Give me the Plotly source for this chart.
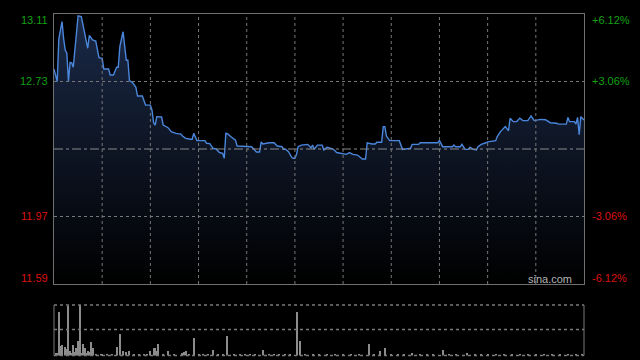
import plotly.graph_objects as go

# ---- data (minute index from open, HK session 330 minutes) ----
minutes = [0, 2, 3, 5, 6, 7, 8, 9, 10, 11, 12, 13, 14, 15, 17, 18, 19, 21, 22, 24, 26, 28, 30, 31,
           34, 35, 37, 39, 40, 41, 43, 44, 45, 46, 47, 49, 51, 52, 55, 57, 60, 61, 62, 63, 64, 67,
           68, 71, 73, 76, 79, 80, 82, 85, 86, 87, 88, 89, 94, 95, 97, 99, 101, 103, 105, 106, 107,
           108, 110, 112, 113, 114, 120, 123, 125, 126, 128, 129, 130, 134, 137, 139, 142, 143, 144,
           146, 148, 149, 150, 151, 152, 154, 158, 160, 161, 162, 164, 167, 168, 170, 172, 174, 176,
           180, 182, 184, 186, 189, 190, 192, 194, 195, 198, 200, 201, 204, 205, 206, 207, 209, 215,
           216, 217, 222, 223, 227, 228, 239, 240, 241, 242, 248, 249, 250, 253, 254, 255, 256, 258,
           259, 261, 263, 264, 266, 269, 270, 275, 276, 278, 280, 281, 283, 284, 286, 288, 290, 292,
           295, 297, 298, 299, 303, 306, 309, 313, 314, 319, 320, 321, 324, 325, 326, 327, 328, 330]
prices = [12.80, 12.73, 12.97, 13.067, 12.97, 12.907, 12.89, 12.73, 12.838, 12.835, 12.81, 12.898,
          12.98, 13.10, 13.095, 13.048, 13.02, 12.917, 12.99, 12.964, 12.958, 12.864, 12.86, 12.80,
          12.80, 12.767, 12.767, 12.81, 12.81, 12.926, 13.01, 12.926, 12.85, 12.85, 12.735, 12.723,
          12.697, 12.648, 12.648, 12.598, 12.597, 12.57, 12.498, 12.485, 12.532, 12.53, 12.485,
          12.47, 12.447, 12.438, 12.434, 12.423, 12.41, 12.405, 12.405, 12.438, 12.416, 12.397,
          12.397, 12.382, 12.38, 12.354, 12.35, 12.33, 12.326, 12.298, 12.438, 12.436, 12.42,
          12.405, 12.40, 12.367, 12.367, 12.363, 12.344, 12.333, 12.333, 12.39, 12.378, 12.385,
          12.385, 12.367, 12.363, 12.348, 12.35, 12.335, 12.303, 12.298, 12.298, 12.32, 12.363,
          12.372, 12.376, 12.357, 12.372, 12.348, 12.372, 12.372, 12.344, 12.36, 12.355, 12.348,
          12.33, 12.326, 12.32, 12.33, 12.32, 12.316, 12.307, 12.294, 12.294, 12.385, 12.378,
          12.378, 12.388, 12.388, 12.476, 12.476, 12.423, 12.397, 12.397, 12.372, 12.348, 12.354,
          12.376, 12.376, 12.385, 12.385, 12.397, 12.38, 12.363, 12.363, 12.372, 12.363, 12.363,
          12.376, 12.363, 12.348, 12.348, 12.36, 12.348, 12.344, 12.363, 12.376, 12.385, 12.39,
          12.397, 12.42, 12.448, 12.466, 12.476, 12.453, 12.523, 12.504, 12.504, 12.523, 12.51,
          12.51, 12.536, 12.523, 12.51, 12.517, 12.515, 12.498, 12.495, 12.49, 12.49, 12.528,
          12.504, 12.504, 12.49, 12.528, 12.43, 12.532, 12.513]

vol_minutes = [1, 2, 3, 4, 5, 7, 8, 9, 10, 11, 12, 13, 14, 15, 16, 17, 18, 19, 20, 21, 22, 23, 24,
               26, 29, 30, 33, 36, 39, 41, 43, 45, 47, 50, 53, 56, 58, 60, 62, 63, 64, 65, 68, 71,
               75, 80, 81, 82, 84, 87, 90, 93, 96, 99, 102, 105, 108, 112, 116, 119, 122, 125, 130,
               134, 137, 140, 144, 147, 151, 153, 156, 161, 165, 170, 175, 180, 185, 190, 196, 199,
               203, 206, 210, 214, 218, 223, 228, 232, 236, 242, 246, 250, 257, 262, 266, 270, 275,
               280, 285, 290, 295, 300, 305, 310, 315, 320, 325, 329]
vol_values = [12, 12, 175, 40, 44, 34, 28, 200, 18, 10, 44, 16, 32, 60, 203, 12, 48, 32, 10, 20,
              16, 56, 32, 6, 8, 8, 5, 5, 33, 88, 20, 16, 20, 8, 5, 8, 5, 20, 30, 30, 20, 48, 6, 18,
              5, 12, 16, 18, 5, 72, 5, 6, 5, 24, 5, 8, 80, 6, 5, 5, 6, 5, 24, 6, 5, 5, 6, 5, 176,
              60, 5, 8, 5, 6, 5, 5, 6, 5, 46, 6, 20, 32, 5, 6, 5, 12, 6, 5, 5, 24, 5, 6, 12, 5, 5,
              6, 5, 5, 6, 5, 5, 6, 5, 5, 6, 5, 6, 5]

price_min, price_max = 11.59, 13.11
prev_close = 12.35
grid_prices = [12.73, 11.97]
left_labels = ["13.11", "12.73", "11.97", "11.59"]
right_labels = ["+6.12%", "+3.06%", "-3.06%", "-6.12%"]
label_prices = [13.11, 12.73, 11.97, 11.59]
label_colors = ["#12a012", "#12a012", "#dd1111", "#dd1111"]
time_grid = [30, 60, 90, 120, 150, 180, 210, 240, 270, 300]

W, H = 640, 360
px_l, px_r = 54, 584
pr_top, pr_bot = 14, 284
v_top, v_mid, v_bot = 305, 329.5, 355.5

def py(y):
    return 1 - y / H

fig = go.Figure()
fig.add_trace(go.Scatter(
    x=minutes, y=prices, mode="lines",
    line=dict(color="#4a86dc", width=1.4),
    fill="tozeroy",
    fillgradient=dict(type="vertical", start=price_min, stop=price_max,
                      colorscale=[[0, "#000000"], [1, "#1b2a48"]]),
    hoverinfo="skip", xaxis="x", yaxis="y"))
fig.add_trace(go.Bar(
    x=vol_minutes, y=vol_values, width=0.62,
    marker=dict(color="#8c8c8c", line=dict(width=0)),
    hoverinfo="skip", xaxis="x2", yaxis="y2"))

dom_x = [px_l / W, px_r / W]
grid_col = "#777777"
fig.update_layout(
    width=W, height=H, margin=dict(l=0, r=0, t=0, b=0),
    paper_bgcolor="#000000", plot_bgcolor="#000000",
    showlegend=False, bargap=0,
    xaxis=dict(domain=dom_x, range=[0, 330], showticklabels=False, showgrid=False,
               zeroline=False, showline=True, mirror=True, linecolor="#707070", linewidth=1,
               ticks=""),
    yaxis=dict(domain=[py(pr_bot), py(pr_top)], range=[price_min, price_max],
               showticklabels=False, showgrid=False, zeroline=False, showline=True, mirror=True,
               linecolor="#707070", linewidth=1, ticks=""),
    xaxis2=dict(domain=dom_x, range=[0, 330], showticklabels=False, showgrid=False,
                zeroline=False, anchor="y2", ticks=""),
    yaxis2=dict(domain=[py(v_bot), py(v_top)], range=[0, 204], showticklabels=False,
                showgrid=False, zeroline=False, ticks=""),
)

shapes = []
# price panel grid (drawn above the fill)
for t in time_grid:
    shapes.append(dict(type="line", xref="x", yref="y domain", x0=t, x1=t, y0=0, y1=1,
                       layer="above", line=dict(color=grid_col, width=1, dash="dot")))
for gp in grid_prices:
    shapes.append(dict(type="line", xref="x domain", yref="y", x0=0, x1=1, y0=gp, y1=gp,
                       layer="above", line=dict(color=grid_col, width=1, dash="dot")))
# previous close dash-dot line
shapes.append(dict(type="line", xref="x domain", yref="y", x0=0, x1=1, y0=prev_close, y1=prev_close,
                   layer="above", line=dict(color="#8a8a8a", width=1, dash="dashdot")))
# volume panel frame and grid
for yy in (v_top, v_mid, v_bot):
    shapes.append(dict(type="line", xref="paper", yref="paper", x0=dom_x[0], x1=dom_x[1],
                       y0=py(yy), y1=py(yy), line=dict(color="#7a7a7a", width=1.3, dash="dot")))
for xx in dom_x:
    shapes.append(dict(type="line", xref="paper", yref="paper", x0=xx, x1=xx,
                       y0=py(v_bot), y1=py(v_top), line=dict(color="#7a7a7a", width=1)))
fig.update_layout(shapes=shapes)

ann = []
label_offsets = [6, 0, 0, -6]
for txt, rtxt, p, c, off in zip(left_labels, right_labels, label_prices, label_colors, label_offsets):
    ypx = pr_top + (price_max - p) / (price_max - price_min) * (pr_bot - pr_top) + off
    ann.append(dict(text=txt, x=50 / W, y=py(ypx), xref="paper", yref="paper",
                    xanchor="right", yanchor="middle", showarrow=False,
                    font=dict(family="Liberation Sans, Arial", size=11, color=c)))
    ann.append(dict(text=rtxt, x=590 / W, y=py(ypx), xref="paper", yref="paper",
                    xanchor="left", yanchor="middle", showarrow=False,
                    font=dict(family="Liberation Sans, Arial", size=11, color=c)))
ann.append(dict(text="sina.com", x=574 / W, y=py(279), xref="paper", yref="paper",
                xanchor="right", yanchor="middle", showarrow=False,
                font=dict(family="Liberation Sans, Arial", size=11, color="#b4b4b4")))
fig.update_layout(annotations=ann)

fig.write_html("out.html")
